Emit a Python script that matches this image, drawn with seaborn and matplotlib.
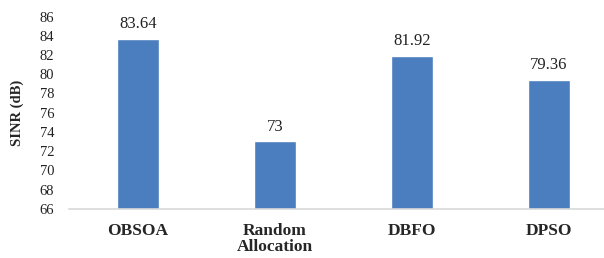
import pandas as pd
import matplotlib.pyplot as plt
import seaborn as sns

# Values
methods = ['OBSOA', 'Random\nAllocation', 'DBFO', 'DPSO']
sinr = [83.64, 73, 81.92, 79.36]
value_labels = ['83.64', '73', '81.92', '79.36']
yticks = list(range(66, 87, 2))

df = pd.DataFrame({'method': methods, 'sinr': sinr})

sns.set_style('white')
plt.rcParams['font.family'] = ['Liberation Serif', 'DejaVu Serif']

fig = plt.figure(figsize=(6.04, 2.58), dpi=100)
# axes runs a bit past the right edge, like the cropped original
ax = fig.add_axes([0.115, 0.191, 0.907, 0.745])

sns.barplot(data=df, x='method', y='sinr', color='#4A7EBF', width=0.31,
            saturation=1, ax=ax)

ax.set_ylim(66, 86)
ax.set_yticks(yticks)
ax.tick_params(axis='y', length=0, pad=11, labelsize=10.5, labelcolor='#222222')
ax.tick_params(axis='x', length=0, pad=10, labelsize=12.5)
for lab in ax.get_xticklabels():
    lab.set_fontweight('bold')
    lab.set_linespacing(1.05)

ax.set_xlabel('')
ax.set_ylabel('SINR (dB)', fontsize=10.5, fontweight='bold', labelpad=11)

# Value labels above bars
for bar, txt in zip(ax.patches, value_labels):
    ax.annotate(txt, (bar.get_x() + bar.get_width() / 2, bar.get_height()),
                xytext=(0, 5), textcoords='offset points',
                ha='center', va='bottom', fontsize=12, color='#222222')

for side in ['top', 'right', 'left']:
    ax.spines[side].set_visible(False)
ax.spines['bottom'].set_color('#D9D9D9')
ax.spines['bottom'].set_linewidth(1.2)

plt.savefig('out.png', dpi=100)
